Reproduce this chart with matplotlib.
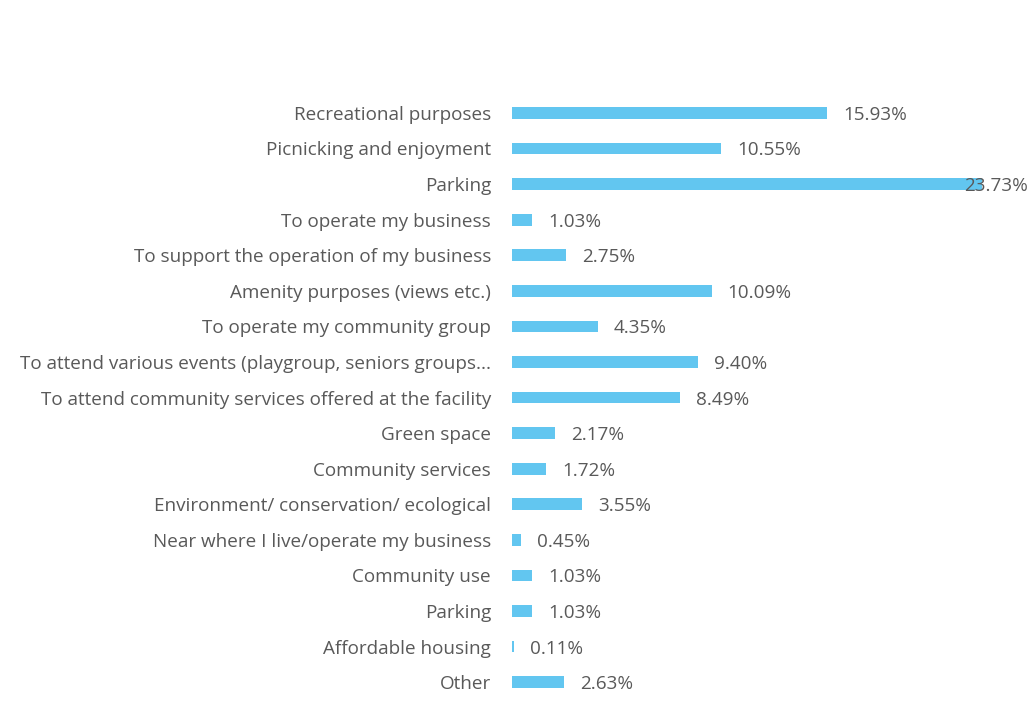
import matplotlib
matplotlib.use('Agg')
import matplotlib.pyplot as plt

categories = [
    'Recreational purposes',
    'Picnicking and enjoyment',
    'Parking',
    'To operate my business',
    'To support the operation of my business',
    'Amenity purposes (views etc.)',
    'To operate my community group',
    'To attend various events (playgroup, seniors groups...',
    'To attend community services offered at the facility',
    'Green space',
    'Community services',
    'Environment/ conservation/ ecological',
    'Near where I live/operate my business',
    'Community use',
    'Parking',
    'Affordable housing',
    'Other',
]
values = [15.93, 10.55, 23.73, 1.03, 2.75, 10.09, 4.35, 9.40, 8.49,
          2.17, 1.72, 3.55, 0.45, 1.03, 1.03, 0.11, 2.63]

plt.rcParams['font.family'] = ['Open Sans', 'DejaVu Sans']

fig = plt.figure(figsize=(10.28, 7.15), dpi=100)
ax = fig.add_axes([0.498, 0.021, 0.502, 0.846])

pos = list(range(len(values)))
ax.barh(pos, values, height=0.33, color='#62C6F0')
ax.set_ylim(len(values) - 0.5, -0.5)
ax.set_xlim(0, 26.06)

ax.set_yticks(pos)
ax.set_yticklabels(categories, fontsize=13.6, color='#595959')
ax.tick_params(axis='y', length=0, pad=15)
ax.set_xticks([])
for s in ax.spines.values():
    s.set_visible(False)

top = max(values)
for i, v in enumerate(values):
    label = f'{v:.2f}%'
    if v == top:
        # no room after the longest bar, so pin its label to the right edge
        ax.annotate(label, (1.0, i), xycoords=ax.get_yaxis_transform(),
                    xytext=(0, -2), textcoords='offset pixels',
                    ha='right', va='center', fontsize=13.6, color='#595959')
    else:
        ax.annotate(label, (v, i), xytext=(16, -2), textcoords='offset pixels',
                    ha='left', va='center', fontsize=13.6, color='#595959')

plt.savefig('out.png', dpi=100)
plt.close()
